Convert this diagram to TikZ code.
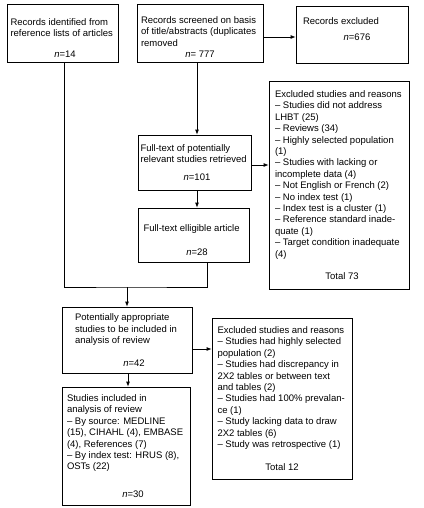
\documentclass[tikz,border=0pt]{standalone}
\usepackage{fontspec}
\setmainfont{Liberation Sans}
\usetikzlibrary{arrows.meta}

\tikzset{
  box/.style={draw, line width=0.8pt, inner sep=0pt, align=flush left,
    font=\fontsize{9.5}{11.4}\selectfont},
  arr/.style={line width=0.8pt, -{Latex[length=5pt,width=4pt]}},
  link/.style={line width=0.8pt}
}

\begin{document}
\begin{tikzpicture}[x=1pt, y=-1pt]
  \useasboundingbox (0,0) rectangle (423,508);

  % 1. Top row
  \node[box, text width=104pt, minimum width=111pt, minimum height=58pt] (ident) at (62.5,33)
    {\rule{0pt}{17pt}Records identified from\\reference lists of articles\par\vspace{9.6pt}\centerline{\hspace*{5pt}\textit{n}=14}};
  \node[box, text width=118pt, minimum width=126pt, minimum height=58pt] (screen) at (200,33)
    {\rule{0pt}{15pt}Records screened on basis\\of title/abstracts (duplicates\\removed\par\centerline{\textit{n}= 777}};
  \node[box, text width=98pt, minimum width=112pt, minimum height=57pt] (recexcl) at (352,34.5)
    {Records excluded\par\vspace{5pt}\centerline{\hspace*{10pt}\textit{n}=676\rule[-11pt]{0pt}{1pt}}};

  % 2. Full-text stage
  \node[box, text width=108pt, minimum width=113pt, minimum height=55pt] (fulltext) at (194.5,162.5)
    {Full-text of potentially\\relevant studies retrieved\par\vspace{6.5pt}\centerline{\hspace*{5pt}\textit{n}=101}};
  \node[box, text width=100pt, minimum width=111pt, minimum height=54pt] (eligible) at (193.5,235)
    {\rule{0pt}{17pt}Full-text elligible article\par\vspace{12.6pt}\centerline{\hspace*{7pt}\textit{n}=28}};
  \node[box, text width=128pt, minimum width=140pt, minimum height=208pt] (exclone) at (339,185)
    {Excluded studies and reasons\\-- Studies did not address\\LHBT (25)\\-- Reviews (34)\\%
     -- Highly selected population\\(1)\\-- Studies with lacking or\\incomplete data (4)\\%
     -- Not English or French (2)\\-- No index test (1)\\-- Index test is a cluster (1)\\%
     -- Reference standard inade-\\quate (1)\\-- Target condition inadequate\\(4)%
     \par\vspace{10.6pt}\centerline{\hspace*{6pt}Total 73}};

  % 3. Review stage
  \node[box, text width=104pt, minimum width=130pt, minimum height=66pt] (potential) at (127,340)
    {Potentially appropriate\\studies to be included in\\analysis of review\par\vspace{11pt}\centerline{\hspace*{14pt}\textit{n}=42}};
  \node[box, text width=129pt, minimum width=140pt, minimum height=161pt] (excltwo) at (282,398.5)
    {Excluded studies and reasons\\-- Studies had highly selected\\population (2)\\%
     -- Studies had discrepancy in\\2X2 tables or between text\\and tables (2)\\%
     -- Studies had 100\% prevalan-\\ce (1)\\-- Study lacking data to draw\\2X2 tables (6)\\%
     -- Study was retrospective (1)\par\vspace{11.5pt}\centerline{Total 12}};
  \node[box, text width=118pt, minimum width=128pt, minimum height=118pt] (included) at (126,446)
    {Studies included in\\analysis of review\\-- By source: MEDLINE\\(15), CIHAHL (4), EMBASE\\%
     (4), References (7)\\-- By index test: HRUS (8),\\OSTs (22)\par\vspace{16pt}\centerline{\hspace*{14pt}\textit{n}=30}};

  % 4. Connectors
  \draw[arr] ([yshift=-4pt]screen.east) -- ([yshift=-4pt]screen.east -| recexcl.west);
  \draw[arr] ([xshift=-3pt]screen.south) -- ([xshift=-3pt]screen.south |- fulltext.north);
  \draw[arr] ([xshift=2.5pt]fulltext.south) -- ([xshift=2.5pt]fulltext.south |- eligible.north);
  \draw[arr] ([yshift=-2.5pt]fulltext.east) -- ([yshift=-2.5pt]fulltext.east -| exclone.west);
  \coordinate (merge) at (127,287);
  \draw[link] ([xshift=1.5pt]ident.south) |- (merge) -| ([xshift=13.5pt]eligible.south);
  \draw[arr] (merge) -- (potential.north);
  \draw[arr] ([yshift=-9pt]potential.east) -- ([yshift=-9pt]potential.east -| excltwo.west);
  \draw[arr] ([xshift=1pt]potential.south) -- ([xshift=1pt]potential.south |- included.north);
\end{tikzpicture}
\end{document}
